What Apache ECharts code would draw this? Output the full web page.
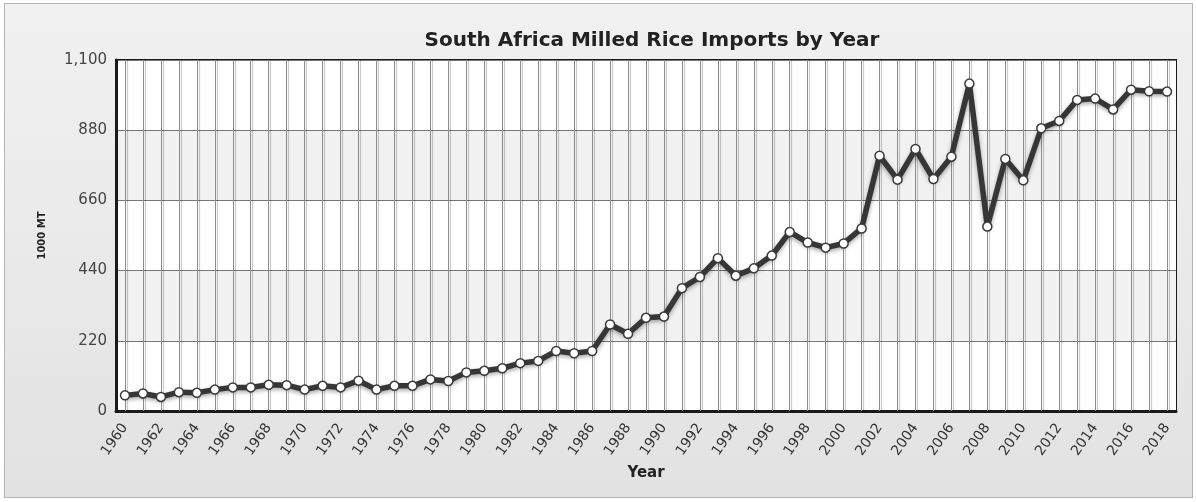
<!DOCTYPE html>
<html>
<head>
<meta charset="utf-8">
<script src="https://cdn.jsdelivr.net/npm/echarts@6/dist/echarts.min.js"></script>
<style>
  html, body { margin: 0; padding: 0; background: #ffffff; }
  #wrap { position: relative; width: 1196px; height: 502px; }
  #bg { position: absolute; left: 4px; top: 3px; width: 1187px; height: 493px;
        border: 1px solid #b4b4b4; background: linear-gradient(#f1f1f1, #e2e2e2); }
  #main { position: absolute; left: 0; top: 0; width: 1196px; height: 502px; }
</style>
</head>
<body>
<div id="wrap"><div id="bg"></div><div id="main"></div></div>
<script>
const titleText = 'South Africa Milled Rice Imports by Year';
const yAxisName = '1000 MT';
const xAxisName = 'Year';
const years = [];
for (let y = 1960; y <= 2018; y++) years.push(String(y));
const imports = [
  49, 55, 44, 59, 57, 67, 74, 74, 82, 81,
  67, 79, 74, 95, 67, 79, 79, 99, 94, 121,
  126, 134, 150, 157, 188, 181, 188, 271, 242, 292,
  296, 385, 420, 479, 424, 447, 487, 561, 528, 512,
  525, 572, 800, 725, 821, 727, 797, 1026, 578, 790,
  723, 886, 909, 975, 979, 945, 1007, 1002, 1001
];
const yMin = 0, yMax = 1100, yStep = 220;

const chart = echarts.init(document.getElementById('main'), null, { renderer: 'canvas' });
chart.setOption({
  backgroundColor: 'transparent',
  animation: false,
  title: {
    text: titleText,
    left: 647, top: 26, textAlign: 'center',
    textStyle: { fontFamily: 'DejaVu Sans', fontWeight: 'bold', fontSize: 20, color: '#222' }
  },
  grid: {
    left: 116, right: 20, top: 60, bottom: 91,
    show: true, borderColor: '#1a1a1a', borderWidth: 2, backgroundColor: '#ffffff'
  },
  xAxis: {
    type: 'category',
    data: years,
    boundaryGap: true,
    name: xAxisName,
    nameLocation: 'middle',
    nameGap: 54,
    nameTextStyle: { fontFamily: 'DejaVu Sans', fontWeight: 'bold', fontSize: 15, color: '#222' },
    axisLine: { lineStyle: { color: '#1a1a1a', width: 3 } },
    axisTick: {
      show: true, interval: 0, alignWithLabel: true, inside: true, length: 351,
      lineStyle: { color: '#8c8c8c', width: 1, shadowColor: 'rgba(0,0,0,0.25)', shadowOffsetX: 2, shadowBlur: 1 }
    },
    axisLabel: {
      interval: 1, rotate: 55, margin: 14,
      fontFamily: 'DejaVu Sans', fontSize: 14, color: '#333'
    },
    splitLine: { show: false }
  },
  yAxis: {
    type: 'value',
    min: yMin, max: yMax, interval: yStep,
    name: yAxisName,
    nameLocation: 'middle',
    nameGap: 69,
    nameTextStyle: { fontFamily: 'DejaVu Sans', fontWeight: 'bold', fontSize: 10, color: '#222' },
    axisLine: { show: true, lineStyle: { color: '#1a1a1a', width: 3 } },
    axisTick: { show: false },
    axisLabel: {
      margin: 9, fontFamily: 'DejaVu Sans', fontSize: 15, color: '#444',
      formatter: v => v.toLocaleString('en-US')
    },
    splitLine: { show: true, lineStyle: { color: '#777', width: 1 } },
    splitArea: { show: true, areaStyle: { color: ['#ffffff', '#f1f1f1'] } }
  },
  series: [{
    type: 'line',
    data: imports,
    symbol: 'circle',
    symbolSize: 9,
    showAllSymbol: true,
    lineStyle: { color: '#363636', width: 5.5, shadowColor: 'rgba(0,0,0,0.35)', shadowBlur: 4, shadowOffsetY: 2 },
    itemStyle: { color: '#ffffff', borderColor: '#3a3a3a', borderWidth: 1.5 },
    z: 5
  }]
});
</script>
</body>
</html>
